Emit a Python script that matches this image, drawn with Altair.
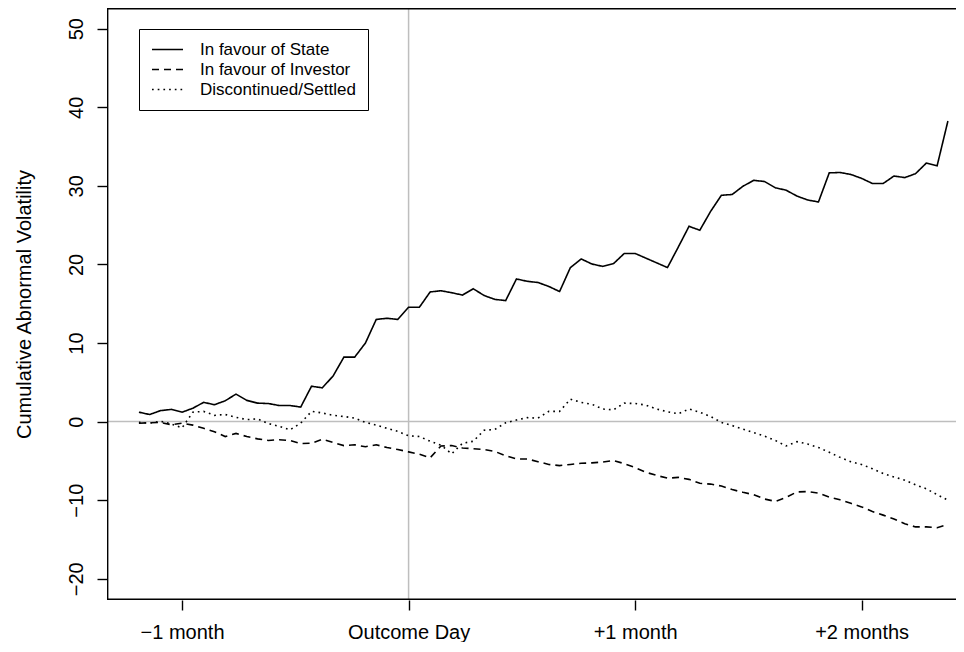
import altair as alt
import pandas as pd

# ---- data (trading days around the outcome) ----
days = list(range(-25, 51))

state = [1.2, 0.9, 1.4, 1.55, 1.2, 1.7, 2.45, 2.15, 2.65, 3.5, 2.7, 2.35, 2.3, 2.05, 2.05,
         1.85, 4.5, 4.3, 5.8, 8.2, 8.2, 10.0, 13.0, 13.15, 13.0,
         14.55, 14.55, 16.5, 16.65, 16.4, 16.1, 16.9, 16.05, 15.55, 15.4,
         18.15, 17.85, 17.7, 17.2, 16.55, 19.6, 20.7, 20.05, 19.75, 20.1,
         21.4, 21.4, 20.8, 20.2, 19.6, 22.2, 24.85, 24.35, 26.75, 28.8,
         28.9, 29.95, 30.7, 30.55, 29.75, 29.45, 28.7, 28.2, 27.95, 31.65,
         31.7, 31.45, 30.95, 30.3, 30.3, 31.25, 31.05, 31.55, 32.9, 32.55,
         38.25]

investor = [-0.2, -0.15, -0.1, -0.4, -0.2, -0.45, -0.85, -1.3, -1.9, -1.5, -1.9, -2.2, -2.4,
            -2.3, -2.4, -2.8, -2.75, -2.25, -2.65, -3.05, -2.95, -3.2, -2.95, -3.3, -3.55,
            -3.85, -4.15, -4.6, -3.1, -3.05, -3.35, -3.45, -3.55, -3.8, -4.35,
            -4.75, -4.75, -5.1, -5.45, -5.6, -5.45, -5.3, -5.25, -5.15, -4.95,
            -5.35, -5.85, -6.45, -6.85, -7.2, -7.1, -7.35, -7.85, -7.95, -8.2,
            -8.65, -9.0, -9.3, -9.85, -10.15, -9.65, -8.95, -8.9, -9.1, -9.6,
            -9.95, -10.4, -10.85, -11.45, -11.9, -12.4, -13.0, -13.4, -13.4, -13.5,
            -13.1]

settled = [-0.1, -0.2, 0.05, -0.3, -0.8, 1.2, 1.3, 0.8, 0.9, 0.55, 0.25, 0.35, -0.25,
           -0.6, -1.05, -0.2, 1.3, 1.1, 0.8, 0.65, 0.45, -0.1, -0.45, -0.85, -1.25,
           -1.8, -1.9, -2.5, -3.0, -4.1, -2.75, -2.5, -1.1, -1.0, -0.15,
           0.2, 0.5, 0.45, 1.3, 1.3, 2.85, 2.45, 2.2, 1.6, 1.5,
           2.35, 2.3, 2.1, 1.6, 1.25, 1.0, 1.6, 1.2, 0.65, -0.1,
           -0.5, -0.95, -1.4, -1.85, -2.4, -3.1, -2.55, -2.85, -3.3, -3.9,
           -4.55, -5.1, -5.45, -6.0, -6.6, -7.05, -7.45, -8.05, -8.55, -9.3,
           -10.0]

series_names = ["In favour of State", "In favour of Investor", "Discontinued/Settled"]
x_tick_values = [-21, 0, 21, 42]
x_tick_labels = ["\u22121 month", "Outcome Day", "+1 month", "+2 months"]
y_tick_values = [-20, -10, 0, 10, 20, 30, 40, 50]
reference_day = [0]
reference_level = [0]

rows = []
for name, vals in zip(series_names, [state, investor, settled]):
    for d, v in zip(days, vals):
        rows.append({"day": d, "value": v, "series": name})
df = pd.DataFrame(rows)

FONT = "Liberation Sans"
# plot area as in the R original; its right side runs past the page edge
W, H = 871, 592
X_MIN, X_MAX = -27.96, 52.79
Y_MIN, Y_MAX = -22.7, 52.63

xscale = alt.Scale(domain=[X_MIN, X_MAX], nice=False, zero=False)
yscale = alt.Scale(domain=[Y_MIN, Y_MAX], nice=False, zero=False)

label_expr = ""
for v, lab in zip(x_tick_values, x_tick_labels):
    label_expr += f"datum.value == {v} ? '{lab}' : "
label_expr += "''"

x_axis = alt.Axis(orient="bottom", values=x_tick_values, labelExpr=label_expr, title=None,
                  grid=False, domain=False, tickSize=10, tickColor="black", tickWidth=1.4,
                  labelFont=FONT, labelFontSize=20, labelColor="black",
                  labelBaseline="alphabetic", labelPadding=28,
                  labelFlush=False, labelOverlap=False)

y_axis = alt.Axis(orient="left", values=y_tick_values, grid=False, domain=False,
                  tickSize=10, tickColor="black", tickWidth=1.4,
                  labelFont=FONT, labelFontSize=20, labelColor="black",
                  labelAngle=270, labelAlign="center", labelBaseline="alphabetic",
                  labelPadding=15, labelFlush=False, labelOverlap=False,
                  title="Cumulative Abnormal Volatility", titleFont=FONT,
                  titleFontSize=20, titleFontWeight="normal", titleColor="black",
                  titleAngle=270, titleAlign="center", titleBaseline="alphabetic",
                  titleX=-77, titleY=H / 2)

vline = alt.Chart(pd.DataFrame({"day": reference_day})).mark_rule(
    color="#BEBEBE", strokeWidth=1.5).encode(x=alt.X("day:Q", scale=xscale, axis=x_axis))

hline = alt.Chart(pd.DataFrame({"value": reference_level})).mark_rule(
    color="#BEBEBE", strokeWidth=1.5).encode(y=alt.Y("value:Q", scale=yscale, axis=y_axis))

# plot frame (R box): top and bottom sides, left side
frame_h = alt.Chart(pd.DataFrame({"value": [Y_MAX - 0.09, Y_MIN + 0.09]})).mark_rule(
    color="black", strokeWidth=1.4).encode(y=alt.Y("value:Q", scale=yscale, axis=y_axis))
frame_v = alt.Chart(pd.DataFrame({"day": [X_MIN + 0.065]})).mark_rule(
    color="black", strokeWidth=1.4).encode(x=alt.X("day:Q", scale=xscale, axis=x_axis))

lines = alt.Chart(df).mark_line(color="black", strokeWidth=1.6).encode(
    x=alt.X("day:Q", scale=xscale, axis=x_axis),
    y=alt.Y("value:Q", scale=yscale, axis=y_axis),
    strokeDash=alt.StrokeDash(
        "series:N", sort=series_names,
        scale=alt.Scale(domain=series_names, range=[[1, 0], [7, 5], [1.7, 4]]),
        legend=alt.Legend(title=None, orient="none", legendX=32, legendY=21,
                          strokeColor="black", padding=12, fillColor="white",
                          symbolType="stroke", symbolSize=961, symbolStrokeWidth=1.6,
                          symbolStrokeColor="black", clipHeight=17,
                          labelFont=FONT, labelFontSize=17, labelColor="black",
                          labelOffset=16, rowPadding=2, labelLimit=400)),
)

chart = alt.layer(vline, hline, frame_h, frame_v, lines).resolve_axis(
    x="shared", y="shared"
).properties(
    width=W, height=H,
    autosize=alt.AutoSizeParams(type="none"),
    padding={"left": 99, "top": 0, "right": -22, "bottom": 42},
    background="white",
).configure_view(strokeWidth=0, stroke="transparent")

chart.save("out.html", embed_options={"renderer": "svg", "actions": False})
